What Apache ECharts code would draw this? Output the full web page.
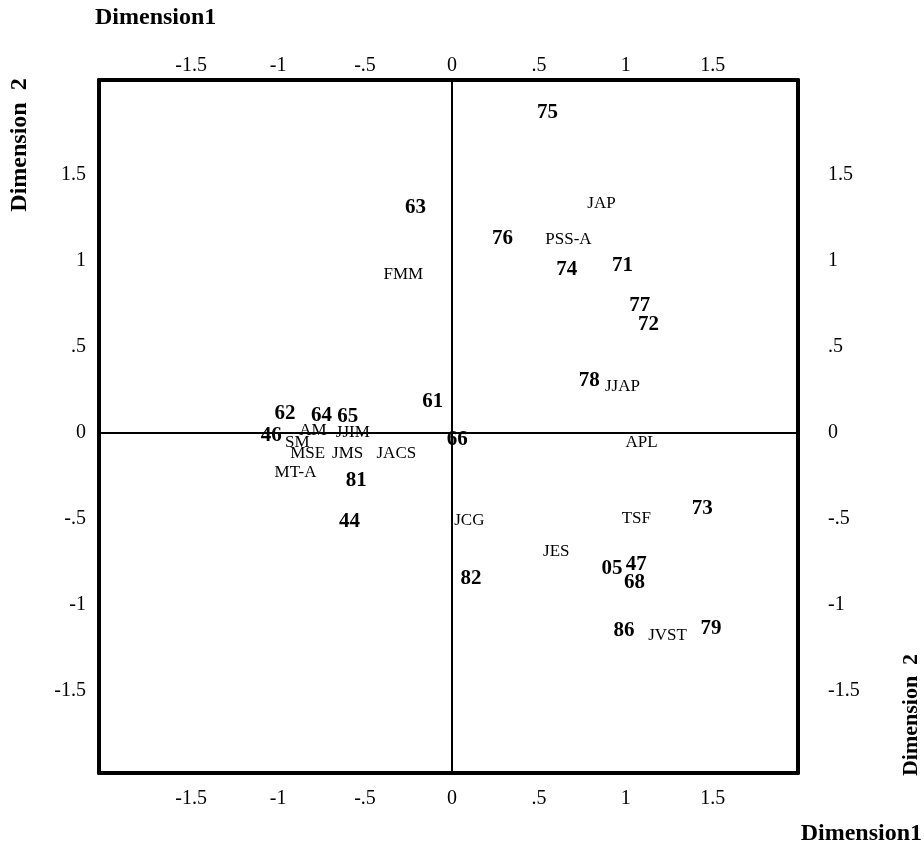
<!DOCTYPE html>
<html>
<head>
<meta charset="utf-8">
<script src="https://cdn.jsdelivr.net/npm/echarts@6/dist/echarts.min.js"></script>
<style>html,body{margin:0;padding:0;background:#fff;}#chart{width:924px;height:848px;}</style>
</head>
<body>
<div id="chart"></div>
<script>
// Tick values shown on all four axes
const tickValues = [-1.5, -1, -0.5, 0, 0.5, 1, 1.5];

// Year points (bold labels)
const yearLabels = ['75','63','76','74','71','77','72','78','61','62','64','65','46','66','81','44','73','05','47','68','82','86','79'];
const yearX = [0.55,-0.21,0.29,0.66,0.98,1.08,1.13,0.79,-0.11,-0.96,-0.75,-0.60,-1.04,0.03,-0.55,-0.59,1.44,0.92,1.06,1.05,0.11,0.99,1.49];
const yearY = [1.86,1.31,1.13,0.95,0.97,0.74,0.63,0.30,0.18,0.11,0.10,0.09,-0.02,-0.04,-0.28,-0.52,-0.44,-0.79,-0.77,-0.87,-0.85,-1.15,-1.14];

// Journal points (regular labels)
const journalLabels = ['JAP','PSS-A','FMM','JJAP','AM','SM','JJIM','MSE','JMS','JACS','MT-A','APL','JCG','TSF','JES','JVST'];
const journalX = [0.86,0.67,-0.28,0.98,-0.80,-0.89,-0.57,-0.83,-0.60,-0.32,-0.90,1.09,0.10,1.06,0.60,1.24];
const journalY = [1.33,1.12,0.92,0.27,0.01,-0.06,0.00,-0.12,-0.12,-0.12,-0.23,-0.06,-0.51,-0.50,-0.69,-1.18];

const FONT = '"Liberation Serif", "Times New Roman", serif';
const fmt = v => (v === 0 ? '0' : String(v).replace('0.', '.'));

function xAx(pos, margin) {
  return {
    type: 'value', position: pos, min: -2.03, max: 1.99,
    axisLine: { show: true, onZero: false, lineStyle: { color: '#000', width: 4 } },
    axisTick: { show: false },
    splitLine: { show: false },
    axisLabel: { customValues: tickValues, formatter: fmt, margin: margin, fontSize: 20, fontFamily: FONT, color: '#000' }
  };
}
function yAx(pos, margin, align) {
  return {
    type: 'value', position: pos, min: -1.98, max: 2.05,
    axisLine: { show: true, onZero: false, lineStyle: { color: '#000', width: 4 } },
    axisTick: { show: false },
    splitLine: { show: false },
    axisLabel: { customValues: tickValues, formatter: fmt, margin: margin, fontSize: 20, fontFamily: FONT, color: '#000', align: align }
  };
}

const chart = echarts.init(document.getElementById('chart'), null, { renderer: 'canvas' });
chart.setOption({
  animation: false,
  backgroundColor: '#fff',
  grid: { left: 99, right: 126, top: 80, bottom: 75 },
  xAxis: [xAx('bottom', 16), xAx('top', 4)],
  yAxis: [yAx('left', 13, 'right'), yAx('right', 30, 'left')],
  graphic: [
    { type: 'text', left: 95, top: 6, style: { text: 'Dimension1', font: 'bold 24px ' + FONT, fill: '#000' } },
    { type: 'text', right: 2, top: 822, style: { text: 'Dimension1', font: 'bold 24px ' + FONT, fill: '#000' } },
    { type: 'text', x: 20, y: 145, rotation: Math.PI / 2, style: { text: 'Dimension  2', font: 'bold 24px ' + FONT, fill: '#000', align: 'center', verticalAlign: 'middle' } },
    { type: 'text', x: 911, y: 715, rotation: Math.PI / 2, style: { text: 'Dimension  2', font: 'bold 22px ' + FONT, fill: '#000', align: 'center', verticalAlign: 'middle' } }
  ],
  series: [
    {
      type: 'scatter', xAxisIndex: 0, yAxisIndex: 0,
      symbolSize: 0, itemStyle: { color: '#000', opacity: 1 },
      data: yearLabels.map((n, i) => [yearX[i], yearY[i], n]),
      label: { show: true, position: 'inside', formatter: p => p.data[2], fontSize: 21, fontWeight: 'bold', fontFamily: FONT, color: '#000', opacity: 1 },
      markLine: {
        silent: true, symbol: ['none', 'none'], label: { show: false },
        lineStyle: { color: '#000', width: 2, type: 'solid', opacity: 1 },
        data: [{ xAxis: 0 }, { yAxis: 0 }]
      },
      z: 3
    },
    {
      type: 'scatter', xAxisIndex: 0, yAxisIndex: 0,
      symbolSize: 0, itemStyle: { color: '#000', opacity: 1 },
      data: journalLabels.map((n, i) => [journalX[i], journalY[i], n]),
      label: { show: true, position: 'inside', formatter: p => p.data[2], fontSize: 17, fontFamily: FONT, color: '#000', opacity: 1 },
      z: 3
    }
  ]
});
</script>
</body>
</html>
